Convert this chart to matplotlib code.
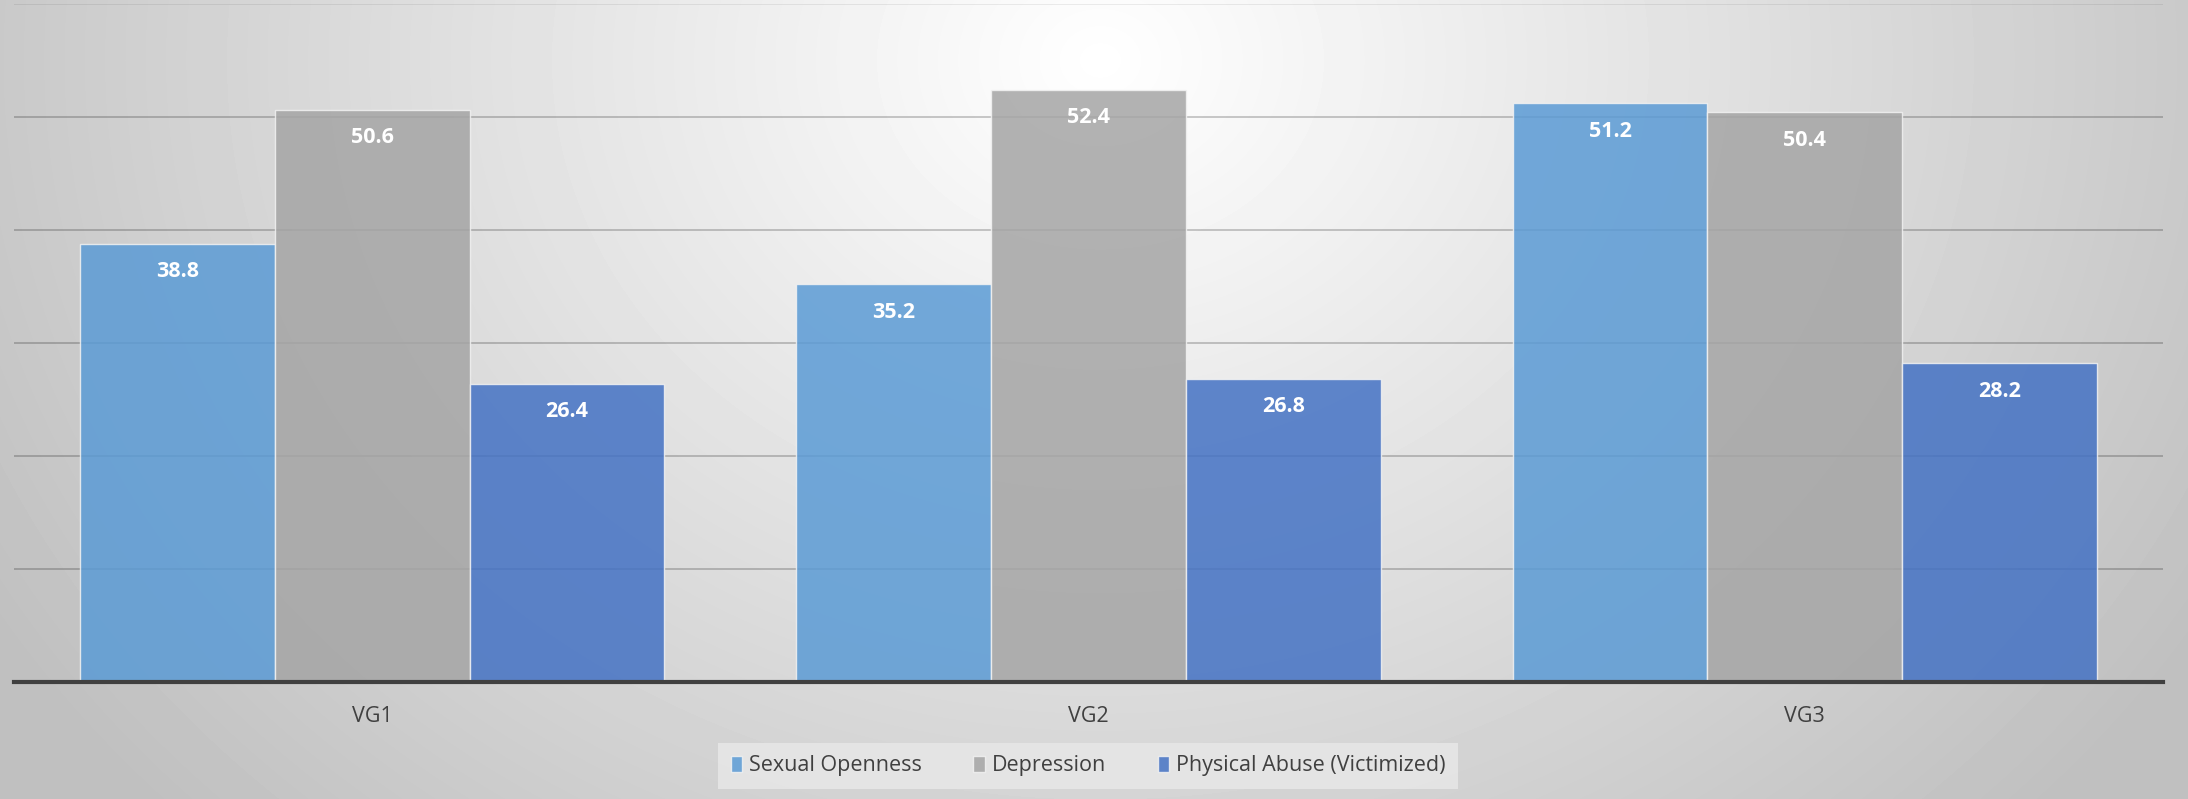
import matplotlib.pyplot as plt
import numpy as np

categories = ['VG1', 'VG2', 'VG3']
series = ['Sexual Openness', 'Depression', 'Physical Abuse (Victimized)']
sexual_openness = [38.8, 35.2, 51.2]
depression = [50.6, 52.4, 50.4]
physical_abuse = [26.4, 26.8, 28.2]
colors = ['#5B9BD5', '#A5A5A5', '#4472C4']

plt.rcParams['font.family'] = ['Open Sans', 'DejaVu Sans']

W, H = 2188, 799
fig = plt.figure(figsize=(W / 100, H / 100), dpi=100)

# radial grey background
bg = fig.add_axes([0, 0, 1, 1], zorder=-2)
yy, xx = np.mgrid[0:H, 0:W]
r = np.sqrt(((xx - 1100) / 1300.0) ** 2 + ((yy - 60) / 1100.0) ** 2)
shade = 1.0 - 0.25 * np.clip(r, 0, 1)
bg.imshow(shade, cmap='gray', vmin=0, vmax=1, aspect='auto', interpolation='bilinear')
bg.axis('off')

ax = fig.add_axes([14 / W, 1 - 682 / H, (2163 - 14) / W, (682 - 4) / H])
ax.patch.set_alpha(0)

x = np.arange(len(categories))
w = 0.272
for i, (vals, name) in enumerate(zip([sexual_openness, depression, physical_abuse], series)):
    bars = ax.bar(x + (i - 1) * w, vals, w, color=colors[i], alpha=0.85,
                  edgecolor='#f2f2f2', linewidth=1.0, label=name, zorder=2)
    for b, v in zip(bars, vals):
        ax.annotate(f'{v}', (b.get_x() + b.get_width() / 2, v), xytext=(0, -20),
                    textcoords='offset points', ha='center', va='center',
                    color='white', fontsize=15.5, fontweight='bold', zorder=3)

ax.set_xlim(-0.5, 2.5)
ax.set_ylim(0, 60)
ax.set_yticks(np.arange(10, 51, 10))
ax.yaxis.grid(True, color='black', alpha=0.22, linewidth=1.3, zorder=1)
ax.axhline(60, color='black', alpha=0.08, linewidth=1.3, zorder=1)
ax.set_axisbelow(True)
ax.tick_params(axis='y', left=False, labelleft=False)
ax.set_xticks(x)
ax.set_xticklabels(categories, fontsize=15.5, color='#404040')
ax.tick_params(axis='x', length=0, pad=17)
for s in ['top', 'right', 'left']:
    ax.spines[s].set_visible(False)
ax.spines['bottom'].set_color('#404040')
ax.spines['bottom'].set_linewidth(3)
ax.spines['bottom'].set_zorder(4)

leg = fig.legend(loc='center', bbox_to_anchor=(1088 / W, 1 - 766 / H), ncol=3,
                 fontsize=15.5, frameon=True, fancybox=False, handlelength=0.55,
                 handleheight=0.8, handletextpad=0.3, columnspacing=2.4,
                 borderpad=0.6, borderaxespad=0, labelcolor='#404040')
leg.get_frame().set_facecolor('#e6e6e6')
leg.get_frame().set_edgecolor('none')
leg.get_frame().set_alpha(0.9)

fig.savefig('out.png', dpi=100)
